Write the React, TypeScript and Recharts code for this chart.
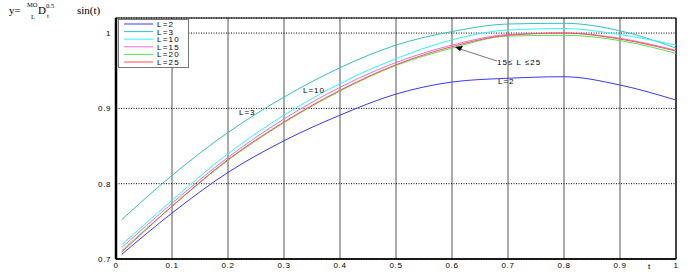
import { LineChart, Line, XAxis, YAxis, CartesianGrid, ReferenceArea } from "recharts";

const tValues = [0.01, 0.1, 0.2, 0.3, 0.4, 0.5, 0.6, 0.7, 0.8, 0.9, 1.0];
const l2 = [0.706, 0.761, 0.815, 0.857, 0.891, 0.919, 0.935, 0.94, 0.942, 0.931, 0.911];
const l3 = [0.752, 0.811, 0.868, 0.915, 0.954, 0.984, 1.002, 1.012, 1.013, 1.003, 0.98];
const l10 = [0.719, 0.778, 0.84, 0.891, 0.933, 0.966, 0.991, 1.004, 1.006, 0.998, 0.984];
const l15 = [0.715, 0.774, 0.835, 0.886, 0.928, 0.961, 0.984, 0.998, 1.0, 0.993, 0.977];
const l20 = [0.711, 0.77, 0.831, 0.881, 0.923, 0.957, 0.98, 0.996, 0.997, 0.99, 0.973];
const l25 = [0.709, 0.77, 0.832, 0.882, 0.924, 0.958, 0.982, 0.997, 1.0, 0.992, 0.976];

const xTicks = [0, 0.1, 0.2, 0.3, 0.4, 0.5, 0.6, 0.7, 0.8, 0.9, 1];
const yTicks = [0.7, 0.8, 0.9, 1];

const series = [
  { key: "L2", name: "L=2", color: "#3a3aff", values: l2 },
  { key: "L3", name: "L=3", color: "#2fc4c4", values: l3 },
  { key: "L10", name: "L=10", color: "#30f8f8", values: l10 },
  { key: "L15", name: "L=15", color: "#e070e0", values: l15 },
  { key: "L20", name: "L=20", color: "#50e850", values: l20 },
  { key: "L25", name: "L=25", color: "#ff5050", values: l25 },
];

const data = tValues.map((t, i) => {
  const row: Record<string, number> = { t };
  series.forEach((s) => {
    row[s.key] = s.values[i];
  });
  return row;
});

const tickFont = { fontFamily: "Liberation Sans, Arial, sans-serif", fontSize: 8, fill: "#000", letterSpacing: 0.6 };

export default function App() {
  return (
    <div style={{ position: "fixed", left: 0, top: 0, width: 692, height: 277, background: "#fff" }}>
      <LineChart width={692} height={277} data={data} margin={{ top: 18, right: 16, bottom: 4, left: 86 }}>
        <CartesianGrid horizontal={false} stroke="#555" />
        <CartesianGrid vertical={false} stroke="#000" strokeDasharray="1 1.5" />
        <XAxis
          dataKey="t"
          type="number"
          domain={[0, 1]}
          ticks={xTicks}
          height={14}
          tickSize={0}
          tickMargin={3}
          axisLine={{ stroke: "#000", strokeWidth: 1.5 }}
          tick={tickFont}
          tickFormatter={(v) => String(v)}
        />
        <YAxis
          type="number"
          domain={[0.7, 1.02]}
          ticks={yTicks}
          width={30}
          tickSize={0}
          tickMargin={5}
          axisLine={{ stroke: "#000", strokeWidth: 2.5 }}
          tick={tickFont}
          allowDataOverflow
        />
        <ReferenceArea x1={0} x2={1} y1={0.7} y2={1.02} fill="none" stroke="#000" strokeWidth={1.2} />
        {series.map((s) => (
          <Line
            key={s.key}
            dataKey={s.key}
            name={s.name}
            stroke={s.color}
            strokeWidth={1}
            dot={false}
            type="monotone"
            isAnimationActive={false}
          />
        ))}
      </LineChart>
      <svg
        width={692}
        height={277}
        style={{ position: "absolute", left: 0, top: 0, pointerEvents: "none" }}
      >
        {/* legend box */}
        <g transform="translate(118,19)">
          <rect x={0.5} y={0.5} width={70} height={48} fill="#fff" stroke="#777" />
          {series.map((s, i) => (
            <g key={s.key}>
              <line x1={6} x2={35} y1={5 + i * 7.6} y2={5 + i * 7.6} stroke={s.color} strokeWidth={1} />
              <text
                x={39}
                y={8 + i * 7.6}
                fontFamily="Liberation Sans, Arial, sans-serif"
                fontSize={8}
                letterSpacing={1.2}
                fill="#000"
              >
                {s.name}
              </text>
            </g>
          ))}
        </g>
        <g fontFamily="Liberation Serif, Times New Roman, serif" fill="#000">
          <text x={9} y={14} fontSize={11}>y=</text>
          <text x={27} y={7} fontSize={6.5}>MO</text>
          <text x={31} y={19} fontSize={6.5}>L</text>
          <text x={38} y={14} fontSize={11}>D</text>
          <text x={46} y={8} fontSize={6.5}>0.5</text>
          <text x={47} y={18} fontSize={6.5}>t</text>
          <text x={77} y={14} fontSize={11}>sin(t)</text>
        </g>
        <g fontFamily="Liberation Sans, Arial, sans-serif" fontSize={8} fill="#000" letterSpacing={1}>
          <text x={648} y={269} letterSpacing={0}>t</text>
          <text x={303} y={93}>L=10</text>
          <text x={239} y={115}>L=3</text>
          <text x={498} y={84}>L=2</text>
          <text x={497} y={65}>15≤ L ≤25</text>
        </g>
        <line x1={497} y1={61} x2={460} y2={49} stroke="#555" strokeWidth={0.8} />
        <polygon points="455,47 463,46 460,51" fill="#000" />
      </svg>
    </div>
  );
}
